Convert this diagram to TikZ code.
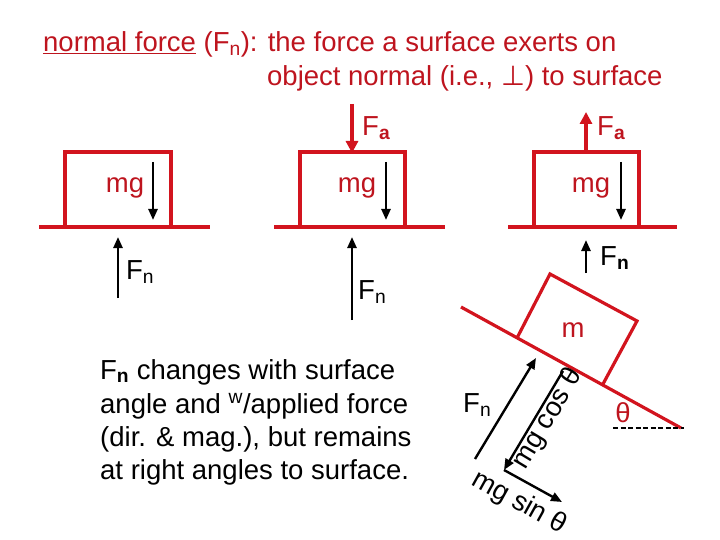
\documentclass[tikz,border=0pt]{standalone}
\usepackage{fontspec}
\setmainfont{Liberation Sans}
\newfontfamily\dejavu{DejaVu Sans}
\usetikzlibrary{arrows.meta}
\definecolor{rd}{RGB}{210,20,30}
\definecolor{rdt}{RGB}{190,20,30}
\begin{document}
\begin{tikzpicture}[x=1pt,y=-1pt,
  txt/.style={font=\fontsize{27.5}{30}\selectfont,inner sep=0pt},
  redline/.style={draw=rd,line width=3.2pt},
  blk/.style={->,>={Triangle[length=11pt,width=9pt]},line width=2.4pt},
  redarr/.style={->,>={Triangle[length=12pt,width=12pt]},draw=rd,line width=3.2pt,color=rd}]
\useasboundingbox (0,0) rectangle (720,540);
% title
\node[txt,text=rdt,anchor=base west] (t1) at (43,52) {\underline{normal force} (F\textsubscript{n}): the force a surface exerts on};
\node[txt,text=rdt,anchor=base west] (t2) at (267,86) {object normal (i.e., {\dejavu ⊥}) to surface};
% block 1
\draw[redline] (39,227) -- (210,227);
\draw[redline] (65,227) |- (171,152) -- (171,227);
\node[txt,text=rdt] (mg1) at (125,188) {mg};
\coordinate (a1) at (153,162); \coordinate (b1) at (153,220);
\draw[blk] (a1) -- (b1);
\coordinate (c1) at (118,298); \coordinate (d1) at (118,237);
\draw[blk] (c1) -- (d1);
\node[txt,anchor=west] (fn1) at (126,272) {F\textsubscript{n}};
% block 2
\draw[redline] (274,227) -- (445,227);
\draw[redline] (300,227) |- (405,152) -- (405,227);
\node[txt,text=rdt] (mg2) at (357,188) {mg};
\coordinate (a2) at (386,162); \coordinate (b2) at (386,220);
\draw[blk] (a2) -- (b2);
\coordinate (c2) at (352,320); \coordinate (d2) at (352,237);
\draw[blk] (c2) -- (d2);
\node[txt,anchor=west] (fn2) at (358,292) {F\textsubscript{n}};
\coordinate (e2) at (352,104); \coordinate (f2) at (352,153);
\draw[redarr] (e2) -- (f2);
\node[txt,text=rdt,anchor=west] (fa2) at (362,128) {F\textsubscript{\textbf{a}}};
% block 3
\draw[redline] (508,227) -- (677,227);
\draw[redline] (534,227) |- (639,152) -- (639,227);
\node[txt,text=rdt] (mg3) at (591,188) {mg};
\coordinate (a3) at (621,162); \coordinate (b3) at (621,220);
\draw[blk] (a3) -- (b3);
\coordinate (c3) at (586,273); \coordinate (d3) at (586,240);
\draw[blk] (c3) -- (d3);
\node[txt,anchor=west] (fn3) at (600,258) {F\textsubscript{\textbf{n}}};
\coordinate (e3) at (586,151); \coordinate (f3) at (586,112);
\draw[redarr] (e3) -- (f3);
\node[txt,text=rdt,anchor=west] (fa3) at (597,128) {F\textsubscript{\textbf{a}}};
% incline
\coordinate (s1) at (461,307); \coordinate (s2) at (681,428);
\draw[redline] (s1) -- (s2);
\draw[redline] (517,338) -- (550,274) -- (637,321) -- (603,384);
\node[txt,text=rdt] (m) at (573,330) {m};
\node[txt,text=rdt] (th) at (623,413) {θ};
\draw[line width=2.4pt,dash pattern=on 5pt off 2.5pt] (613,428) -- (684,428);
\coordinate (p1) at (475,459); \coordinate (p2) at (536,358);
\draw[blk] (p1) -- (p2);
\node[txt,anchor=west] (fn4) at (463,405) {F\textsubscript{n}};
\coordinate (q1) at (563,371); \coordinate (q2) at (504,470); \coordinate (q3) at (562,502);
\draw[blk] (q1) -- (q2);
\draw[blk] (q2) -- (q3);
\node[txt,rotate=59] (mgc) at (548,419) {mg cos θ};
\node[txt,rotate=-29] (mgs) at (519,503) {mg sin θ};
% text
\node[txt,anchor=base west] (b1l) at (100,379) {F\textsubscript{\textbf{n}} changes with surface};
\node[txt,anchor=base west] (b2l) at (100,413) {angle and \textsuperscript{w}/applied force};
\node[txt,anchor=base west] (b3l) at (100,446) {(dir. \& mag.), but remains};
\node[txt,anchor=base west] (b4l) at (100,479) {at right angles to surface.};
\end{tikzpicture}
\end{document}
